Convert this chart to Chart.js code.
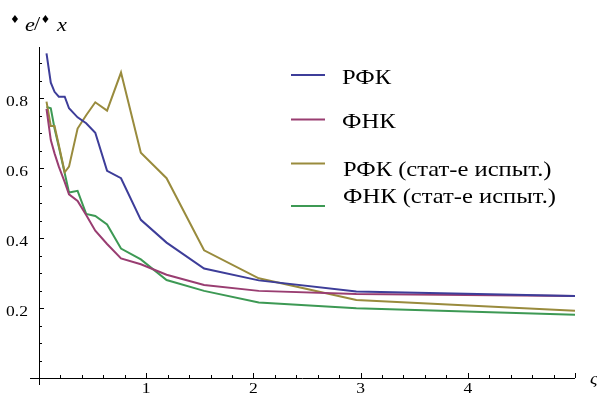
<!DOCTYPE html>
<html>
<head>
  <meta charset="UTF-8" />
  <title>РФК / ФНК</title>
  <script src="https://cdn.jsdelivr.net/npm/chart.js"></script>
  <style>
    html, body { margin: 0; padding: 0; background: #fff; }
    #wrap { width: 597px; height: 403px; position: relative; }
  </style>
</head>
<body>
  <div id="wrap"><canvas id="chart" width="597" height="403"></canvas></div>

  <script>
    // shared x grid for all four curves
    const xValues = [0.07, 0.11, 0.145, 0.185, 0.24, 0.28, 0.36, 0.44, 0.525, 0.635, 0.765, 0.95, 1.19, 1.54, 2.05, 2.96, 5.0];

    const rfk     = [0.928, 0.844, 0.818, 0.804, 0.804, 0.771, 0.745, 0.728, 0.701, 0.592, 0.571, 0.452, 0.387, 0.313, 0.279, 0.247, 0.234];
    const fnk     = [0.769, 0.680, 0.642, 0.604, 0.560, 0.525, 0.506, 0.466, 0.421, 0.383, 0.342, 0.325, 0.295, 0.266, 0.249, 0.240, 0.234];
    const rfkStat = [0.790, 0.720, 0.720, 0.665, 0.588, 0.604, 0.713, 0.751, 0.788, 0.764, 0.873, 0.644, 0.571, 0.365, 0.285, 0.223, 0.192];
    const fnkStat = [0.775, 0.771, 0.713, 0.661, 0.585, 0.530, 0.535, 0.469, 0.463, 0.439, 0.370, 0.339, 0.280, 0.249, 0.216, 0.199, 0.181];

    const seriesNames = ["РФК", "ФНК", "РФК (стат-е испыт.)", "ФНК (стат-е испыт.)"];
    const seriesColors = ["#3d3d99", "#993d71", "#998b3d", "#3d9954"];

    const xTickLabels = [1, 2, 3, 4];
    const yTickLabels = [0.2, 0.4, 0.6, 0.8];

    const toPoints = ys => ys.map((y, i) => ({ x: xValues[i], y }));

    const SERIF = '"Liberation Serif"';
    const SX = 1.17; // the original picture is a bit stretched sideways

    function text(ctx, str, x, y, font, align) {
      ctx.save();
      ctx.font = font;
      ctx.textAlign = align || 'left';
      ctx.textBaseline = 'alphabetic';
      ctx.translate(x, y);
      ctx.scale(SX, 1);
      ctx.fillText(str, 0, 0);
      ctx.restore();
    }

    // axes, inward ticks, tick labels, legend, axis titles
    const decor = {
      id: 'decor',
      afterDraw(chart) {
        const ctx = chart.ctx;
        const xs = chart.scales.x, ys = chart.scales.y;
        const x0 = xs.getPixelForValue(0), y0 = ys.getPixelForValue(0);
        const xEnd = xs.getPixelForValue(5), yTop = ys.getPixelForValue(ys.max);

        ctx.save();
        ctx.strokeStyle = '#000';
        ctx.lineWidth = 1;

        ctx.beginPath();
        ctx.moveTo(x0 - 9, Math.round(y0) + 0.5); ctx.lineTo(xEnd, Math.round(y0) + 0.5);
        ctx.moveTo(Math.round(x0) + 0.5, yTop); ctx.lineTo(Math.round(x0) + 0.5, y0 + 7);
        ctx.stroke();

        ctx.beginPath();
        for (let i = 1; i <= 25; i++) {
          const px = Math.round(xs.getPixelForValue(i * 0.2)) + 0.5;
          const len = (i % 5 === 0) ? 5 : 3;
          ctx.moveTo(px, y0); ctx.lineTo(px, y0 - len);
        }
        for (let i = 1; i <= 18; i++) {
          const py = Math.round(ys.getPixelForValue(i * 0.05)) + 0.5;
          const len = (i % 4 === 0) ? 5 : 3;
          ctx.moveTo(x0, py); ctx.lineTo(x0 + len, py);
        }
        ctx.stroke();

        ctx.fillStyle = '#000';
        const tickFont = '15px ' + SERIF;
        xTickLabels.forEach(v => text(ctx, String(v), xs.getPixelForValue(v), y0 + 15, tickFont, 'center'));
        yTickLabels.forEach(v => text(ctx, v.toFixed(1), x0 - 11, ys.getPixelForValue(v) + 8, tickFont, 'right'));

        // y axis title
        ctx.font = '11px "DejaVu Sans"';
        ctx.textAlign = 'center';
        ctx.textBaseline = 'middle';
        ctx.fillText('♦', 15, 20.5);
        ctx.fillText('♦', 45.5, 20.5);
        text(ctx, 'e', 25, 30.5, 'italic 19px ' + SERIF);
        text(ctx, '/', 34, 29.5, '19px ' + SERIF);
        text(ctx, 'x', 57, 30.5, 'italic 19px ' + SERIF);

        // x axis title (clipped at right edge)
        text(ctx, 'ς', 590, 384, 'italic 16px ' + SERIF);

        // legend
        const rows = [
          { ly: 75, ty: 83.5, tx: 342 },
          { ly: 119.5, ty: 127.5, tx: 342 },
          { ly: 163.5, ty: 176, tx: 343 },
          { ly: 206, ty: 202.5, tx: 343 }
        ];
        chart.data.datasets.forEach((ds, i) => {
          const r = rows[i];
          ctx.strokeStyle = ds.borderColor;
          ctx.lineWidth = 2;
          ctx.beginPath();
          ctx.moveTo(291, r.ly); ctx.lineTo(325, r.ly);
          ctx.stroke();
          ctx.fillStyle = '#000';
          text(ctx, ds.label, r.tx, r.ty, '21px ' + SERIF);
        });
        ctx.restore();
      }
    };

    new Chart(document.getElementById('chart'), {
      type: 'scatter',
      data: {
        datasets: [rfk, fnk, rfkStat, fnkStat].map((ys, i) => ({
          label: seriesNames[i],
          data: toPoints(ys),
          showLine: true,
          borderColor: seriesColors[i],
          backgroundColor: seriesColors[i],
          borderWidth: 2,
          pointRadius: 0,
          tension: 0
        }))
      },
      options: {
        responsive: false,
        animation: false,
        layout: { padding: { left: 39, right: 22, top: 47, bottom: 25 } },
        plugins: { legend: { display: false }, tooltip: { enabled: false } },
        scales: {
          x: { type: 'linear', display: false, min: 0, max: 5 },
          y: { type: 'linear', display: false, min: 0, max: 0.946 }
        }
      },
      plugins: [decor]
    });
  </script>
</body>
</html>
